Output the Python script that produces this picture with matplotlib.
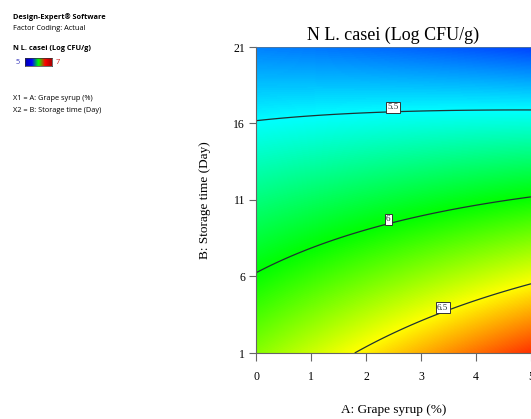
import numpy as np
import matplotlib
matplotlib.use("Agg")
import matplotlib.pyplot as plt
from matplotlib.colors import LinearSegmentedColormap

# ---- data (response-surface model) ----
a_range = [0.0, 5.0]          # A: Grape syrup (%)
b_range = [1.0, 21.0]         # B: Storage time (Day)
coef_intercept = 6.314
coef_A = 0.1419
coef_B = -0.0503
coef_AB = -0.00754
coef_A2 = -0.0015
coef_B2 = 0.0
contour_levels = [5.5, 6.0, 6.5]
label_positions = [(2.5, 16.7), (2.4, 9.5), (3.37, 3.9)]
x_ticks = [0, 1, 2, 3, 4, 5]
y_ticks = [1, 6, 11, 16, 21]
color_min, color_max = 5.0, 7.0

W, H = 531, 419
fig = plt.figure(figsize=(W / 100, H / 100), dpi=100)

def fx(px):
    return px / W

def fy(py):
    return 1 - py / H

ax = fig.add_axes([fx(256), fy(353), fx(531) - fx(256), fy(47) - fy(353)])

A = np.linspace(a_range[0], a_range[1], 300)
B = np.linspace(b_range[0], b_range[1], 300)
AA, BB = np.meshgrid(A, B)
N = (coef_intercept + coef_A * AA + coef_B * BB + coef_AB * AA * BB
     + coef_A2 * AA ** 2 + coef_B2 * BB ** 2)

cmap = LinearSegmentedColormap.from_list(
    "de", [(0.0, "#0000ff"), (0.25, "#00ffff"), (0.5, "#00ff00"),
           (0.75, "#ffff00"), (1.0, "#ff0000")])
ax.imshow(N, origin="lower", extent=[a_range[0], a_range[1], b_range[0], b_range[1]],
          aspect="auto", cmap=cmap, vmin=color_min, vmax=color_max, interpolation="bilinear")
cs = ax.contour(AA, BB, N, levels=contour_levels, colors="#1f3333", linewidths=0.9)
labels = ax.clabel(cs, fmt=lambda v: f"{v:g}", manual=label_positions, inline=False,
                   fontsize=6.5)
for t in labels:
    t.set_family("Liberation Serif")
    t.set_bbox(dict(boxstyle="square,pad=0.15", facecolor="white", edgecolor="#333333", linewidth=0.7))
    t.set_rotation(0)
    px, py = t.get_position()
    t.set_position((px, py + 0.3))

ax.set_xlim(a_range)
ax.set_ylim(b_range)
ax.set_xticks(x_ticks)
ax.set_yticks(y_ticks)
ax.spines["right"].set_visible(False)
ax.spines["top"].set_color("#557799")
ax.spines["top"].set_linewidth(0.6)
for s in ["left", "bottom"]:
    ax.spines[s].set_color("#666666")
    ax.spines[s].set_linewidth(0.8)
ax.tick_params(direction="out", length=6, width=0.8, color="#666666",
               labelsize=8.5, pad=7)
for lab in ax.get_xticklabels() + ax.get_yticklabels():
    lab.set_family("Liberation Serif")
ax.tick_params(axis="y", length=5, pad=3)

ax.set_title("N L. casei (Log CFU/g)", family="Liberation Serif", fontsize=13, pad=5)
fig.text(fx(393.5), fy(410), "A: Grape syrup (%)", family="Liberation Serif",
         fontsize=9.5, ha="center", va="center")
fig.text(fx(205), fy(200), "B: Storage time (Day)", family="Liberation Serif",
         fontsize=9.5, ha="center", va="center", rotation=90)

sans = "Open Sans"
fig.text(fx(13), fy(17), "Design-Expert® Software", family=sans, fontsize=5.3,
         weight="bold", va="center")
fig.text(fx(13), fy(28), "Factor Coding: Actual", family=sans, fontsize=5.3, va="center")
fig.text(fx(13), fy(49), "N L. casei (Log CFU/g)", family=sans, fontsize=5.3,
         weight="bold", va="center")
fig.text(fx(16), fy(62), "5", family=sans, fontsize=5.3, color="#3333bb", va="center")
fig.text(fx(56), fy(62), "7", family=sans, fontsize=5.3, color="#cc2222", va="center")
fig.text(fx(13), fy(99), "X1 = A: Grape syrup (%)", family=sans, fontsize=5.3, va="center")
fig.text(fx(13), fy(110), "X2 = B: Storage time (Day)", family=sans, fontsize=5.3, va="center")

cax = fig.add_axes([fx(25), fy(66), fx(52) - fx(25), fy(58) - fy(66)])
grad = np.linspace(color_min, color_max, 100)[None, :]
cax.imshow(grad, aspect="auto", cmap=LinearSegmentedColormap.from_list(
    "leg", ["#0000aa", "#0000ff", "#00ff00", "#ff0000", "#aa0000"]),
    vmin=color_min, vmax=color_max)
cax.set_xticks([])
cax.set_yticks([])
for s in cax.spines.values():
    s.set_linewidth(0.5)
    s.set_color("#333333")

fig.savefig("out.png", dpi=100)
